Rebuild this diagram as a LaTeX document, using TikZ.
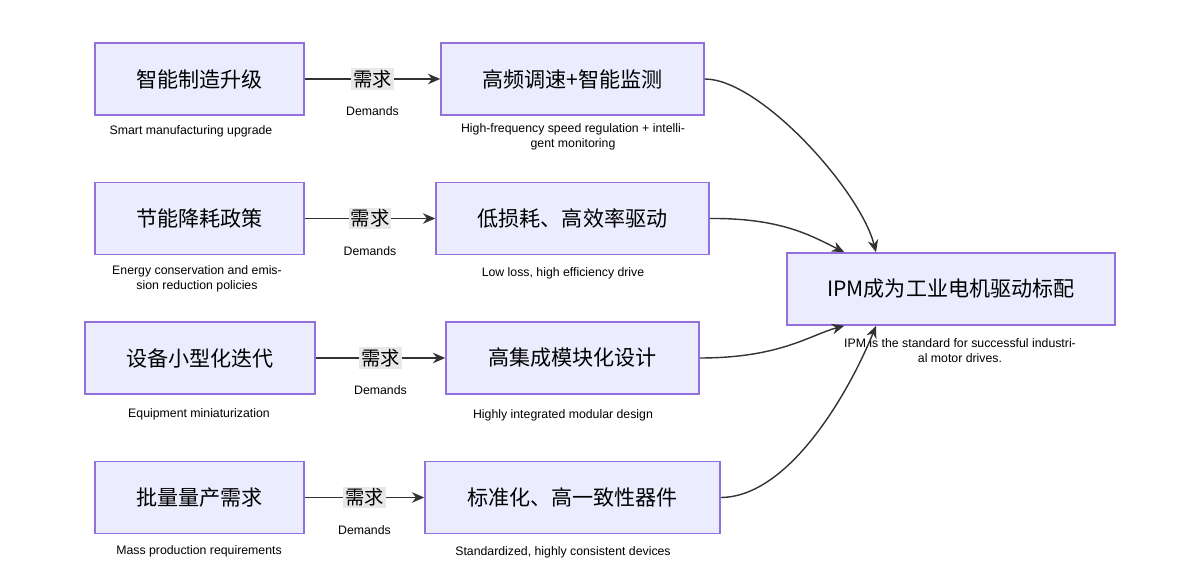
\documentclass[tikz,border=0pt]{standalone}
\usepackage{fontspec}
\setmainfont{Liberation Sans}
\newfontfamily\cjk{Noto Sans CJK SC}
\usetikzlibrary{arrows.meta,positioning}
\definecolor{boxfill}{HTML}{ECECFF}
\definecolor{boxline}{HTML}{9370DB}
\definecolor{tagfill}{HTML}{E8E8E8}
\begin{document}
\begin{tikzpicture}[x=0.02cm,y=-0.02cm,
		box/.style={rectangle, draw=boxline, fill=boxfill, line width=0.9pt,
		minimum height=1.44cm, align=center, font=\cjk\fontsize{12}{14}\selectfont},
		note/.style={align=center, font=\fontsize{7}{8.5}\selectfont},
		tag/.style={fill=tagfill, inner sep=1pt, font=\cjk\fontsize{11}{13}\selectfont},
		link/.style={draw=black!80, thick, -{Stealth[length=7pt,width=6pt]}}
	]
		\useasboundingbox (0,0) rectangle (1200,587);
		
		% Drivers
		\node[box, minimum width=4.18cm] (d1) at (199.5,79) {智能制造升级};
		\node[box, minimum width=4.18cm] (d2) at (199.5,218.5) {节能降耗政策};
		\node[box, minimum width=4.6cm] (d3) at (200,358) {设备小型化迭代};
		\node[box, minimum width=4.18cm] (d4) at (199.5,497.5) {批量量产需求};
		
		% Requirements
		\node[box, minimum width=5.26cm] (r1) at (572.5,79) {高频调速+智能监测};
		\node[box, minimum width=5.46cm] (r2) at (572.5,218.5) {低损耗、高效率驱动};
		\node[box, minimum width=5.06cm] (r3) at (572.5,358) {高集成模块化设计};
		\node[box, minimum width=5.9cm] (r4) at (572.5,497.5) {标准化、高一致性器件};
		
		% Result
		\node[box, minimum width=6.56cm] (ipm) at (951,289) {IPM成为工业电机驱动标配};
		
		% Notes
		\node[note] at (191,131) {Smart manufacturing upgrade};
		\node[note] at (197,279) {Energy conservation and emis-\\sion reduction policies};
		\node[note] at (199,414) {Equipment miniaturization};
		\node[note] at (199,551) {Mass production requirements};
		\node[note] at (573,137) {High-frequency speed regulation + intelli-\\gent monitoring};
		\node[note] at (563,273) {Low loss, high efficiency drive};
		\node[note] at (563,415) {Highly integrated modular design};
		\node[note] at (563,552) {Standardized, highly consistent devices};
		\node[note] at (960,351) {IPM is the standard for successful industri-\\al motor drives.};
		
		% Drivers to requirements
		\foreach \i in {1,...,4}{
			\draw[link] (d\i.east) -- node[tag]{需求} 
			node[note, below=12pt]{Demands} (r\i.west);
		}
		
		% Requirements to result
		\draw[link] (r1.east) .. controls (760,79) and (860,190) .. ([xshift=-1.5cm]ipm.north);
		\draw[link] (r2.east) .. controls (780,218) and (810,235) .. ([xshift=1.16cm]ipm.north west);
		\draw[link] (r3.east) .. controls (780,358) and (810,335) .. ([xshift=1.16cm]ipm.south west);
		\draw[link] (r4.east) .. controls (790,497) and (850,390) .. ([xshift=-1.5cm]ipm.south);
\end{tikzpicture}
\end{document}
